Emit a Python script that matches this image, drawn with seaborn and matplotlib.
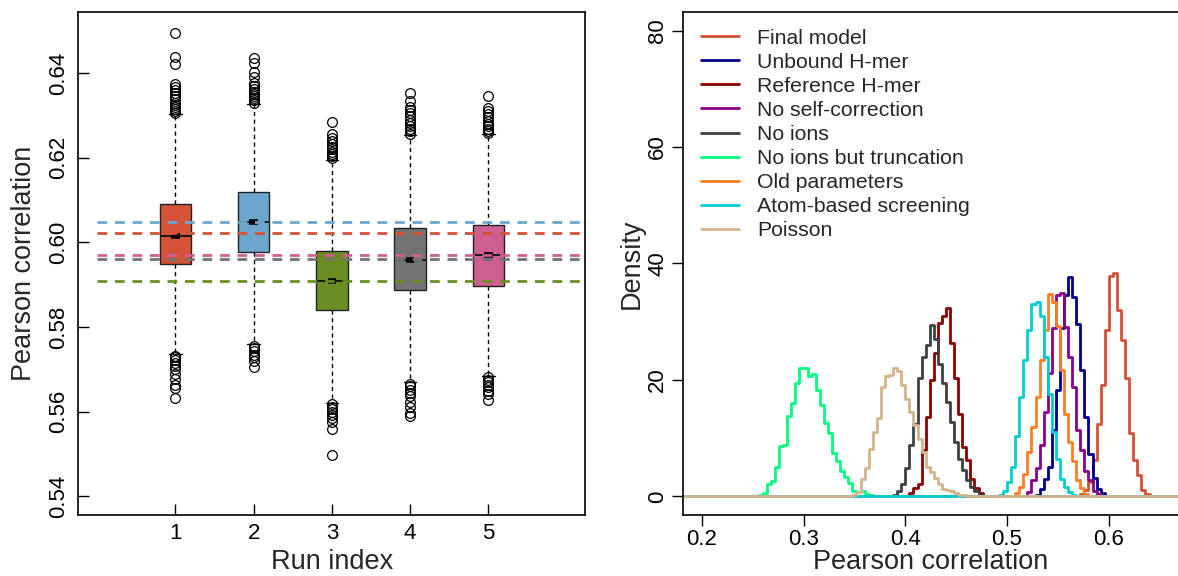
import numpy as np
import matplotlib
matplotlib.use("Agg")
import matplotlib.pyplot as plt
import seaborn as sns

# ---- left panel: box statistics per run ----
runs = [1, 2, 3, 4, 5]
run_colors = ["#D35238", "#6CA6CD", "#6B8E23", "#737373", "#CD6090"]
q1 = [0.5948, 0.5976, 0.5839, 0.5887, 0.5898]
med = [0.6015, 0.6047, 0.5908, 0.5959, 0.5970]
q3 = [0.6091, 0.6119, 0.5980, 0.6034, 0.6041]
whis_lo = [0.5736, 0.5761, 0.5621, 0.5670, 0.5685]
whis_hi = [0.6304, 0.6327, 0.6195, 0.6253, 0.6255]
fliers_1 = [0.6306, 0.6310, 0.6315, 0.6320, 0.6325, 0.6330, 0.6338, 0.6345, 0.6352,
            0.6360, 0.6368, 0.6375, 0.6422, 0.6437, 0.6494,
            0.5732, 0.5728, 0.5722, 0.5715, 0.5708, 0.5700, 0.5690, 0.5678, 0.5663,
            0.5655, 0.5632]
fliers_2 = [0.6330, 0.6335, 0.6340, 0.6345, 0.6350, 0.6356, 0.6363, 0.6370, 0.6377,
            0.6390, 0.6402, 0.6424, 0.6436,
            0.5756, 0.5750, 0.5743, 0.5735, 0.5728, 0.5720, 0.5706]
fliers_3 = [0.6198, 0.6203, 0.6208, 0.6214, 0.6220, 0.6226, 0.6232, 0.6240, 0.6246,
            0.6256, 0.6283,
            0.5617, 0.5612, 0.5606, 0.5600, 0.5593, 0.5585, 0.5576, 0.5560, 0.5498]
fliers_4 = [0.6256, 0.6262, 0.6268, 0.6275, 0.6282, 0.6290, 0.6298, 0.6305, 0.6313,
            0.6320, 0.6333, 0.6352,
            0.5666, 0.5660, 0.5652, 0.5645, 0.5636, 0.5624, 0.5611, 0.5598, 0.5590]
fliers_5 = [0.6258, 0.6263, 0.6268, 0.6274, 0.6280, 0.6287, 0.6295, 0.6303, 0.6311,
            0.6318, 0.6346,
            0.5681, 0.5676, 0.5670, 0.5664, 0.5658, 0.5650, 0.5641, 0.5628]
fliers = [fliers_1, fliers_2, fliers_3, fliers_4, fliers_5]
ref_values = [0.6047, 0.6021, 0.5970, 0.5960, 0.5908]
ref_colors = ["#6CA6CD", "#D35238", "#CD6090", "#737373", "#6B8E23"]

# ---- right panel: density histograms, bin width 0.004 ----
hist_labels = ["Final model", "Unbound H-mer", "Reference H-mer", "No self-correction",
               "No ions", "No ions but truncation", "Old parameters",
               "Atom-based screening", "Poisson"]
hist_colors = ["#D35238", "#00008B", "#8B0000", "#8B008B", "#404040",
               "#00FF7F", "#FF7F24", "#00CED1", "#D2B48C"]
hist_starts = [0.572, 0.528, 0.404, 0.520, 0.388, 0.256, 0.508, 0.492, 0.348]
h_final = [0.46, 1.15, 2.5, 6.2, 12.5, 19.1, 28.5, 37.9, 38.4, 32.0, 26.8, 20.4,
           10.9, 6.2, 3.6, 1.15, 0.46]
h_unbound = [0.3, 1.2, 2.9, 5.0, 11.4, 18.2, 28.9, 34.6, 37.6, 34.3, 29.6, 21.7,
             13.6, 7.2, 3.1, 1.2, 0.5]
h_reference = [0.5, 1.4, 2.2, 7.9, 13.6, 20.0, 24.6, 29.7, 30.9, 32.4, 26.3, 20.3,
               14.2, 8.5, 6.2, 3.0, 1.4, 0.5]
h_noself = [0.75, 2.75, 4.8, 8.8, 14.5, 21.2, 29.0, 34.6, 34.9, 29.1, 24.0, 18.8,
            11.4, 7.9, 4.4, 2.75, 1.0, 0.45]
h_noions = [0.3, 0.9, 2.2, 4.8, 8.8, 12.5, 20.3, 24.0, 26.0, 29.5, 27.1, 22.8,
            19.4, 16.2, 12.8, 9.3, 6.5, 4.5, 2.75, 1.6, 0.9, 0.3]
h_trunc = [0.3, 0.5, 2.1, 2.6, 5.0, 8.6, 8.8, 13.8, 16.0, 19.4, 22.0, 22.0, 20.7,
           21.0, 18.2, 15.7, 12.6, 10.8, 7.5, 6.1, 4.4, 3.4, 2.3, 1.0, 0.8, 1.0,
           0.4, 0.3]
h_old = [0.5, 1.6, 3.9, 7.6, 11.9, 17.1, 23.5, 28.6, 34.8, 33.4, 29.3, 21.7, 14.2,
         9.3, 6.1, 2.75, 1.4, 0.45]
h_atom = [0.3, 0.9, 2.5, 5.0, 10.3, 17.1, 23.5, 28.6, 33.0, 33.4, 30.9, 24.0, 17.5,
          11.1, 6.5, 3.0, 1.6, 0.8, 0.3]
h_poisson = [0.3, 0.75, 3.0, 4.8, 8.2, 11.1, 13.4, 18.8, 20.6, 20.8, 22.0, 21.5,
             19.2, 16.8, 14.5, 12.2, 9.9, 7.6, 5.0, 4.2, 3.1, 2.2, 1.3, 1.1, 0.9,
             0.6, 0.3, 0.3]
hist_heights = [h_final, h_unbound, h_reference, h_noself, h_noions, h_trunc,
                h_old, h_atom, h_poisson]

sns.set_style("ticks")
plt.rcParams["font.family"] = ["Liberation Sans", "DejaVu Sans"]

fig = plt.figure(figsize=(11.78, 5.76), dpi=100)
ax1 = fig.add_axes([0.0666, 0.1059, 0.4303, 0.8733])
ax2 = fig.add_axes([0.5802, 0.1059, 0.4198, 0.8733])

# left: boxplot from summary stats
stats = []
for i in range(len(runs)):
    stats.append(dict(med=med[i], q1=q1[i], q3=q3[i], whislo=whis_lo[i],
                      whishi=whis_hi[i], fliers=fliers[i]))
bp = ax1.bxp(stats, positions=runs, widths=0.4, capwidths=0.16,
             patch_artist=True,
             boxprops=dict(edgecolor="#222222", linewidth=1.0),
             medianprops=dict(color="#111111", linewidth=1.3),
             whiskerprops=dict(color="black", linewidth=1, linestyle=(0, (3, 2.5))),
             capprops=dict(color="black", linewidth=1),
             flierprops=dict(marker="o", markerfacecolor="none",
                             markeredgecolor="black", markersize=7,
                             markeredgewidth=0.9))
for patch, c in zip(bp["boxes"], run_colors):
    patch.set_facecolor(c)
# thick notch mark at each median
ax1.hlines(med, np.array(runs) - 0.055, np.array(runs) + 0.055, colors="black",
           linewidth=4, zorder=4)

for v, c in zip(ref_values, ref_colors):
    ax1.hlines(v, 0, 6.24, colors=c, linewidth=2, linestyles=(0, (3.5, 2.8)), zorder=5)

ax1.set_xlim(-0.24, 6.24)
ax1.set_ylim(0.5356, 0.6544)
ax1.set_xticks(runs)
ax1.set_xticklabels([str(r) for r in runs])
ax1.set_yticks([0.54, 0.56, 0.58, 0.60, 0.62, 0.64])
ax1.set_yticklabels(["0.54", "0.56", "0.58", "0.60", "0.62", "0.64"])
ax1.set_xlabel("Run index", fontsize=19.5)
ax1.set_ylabel("Pearson correlation", fontsize=19.5)
ax1.tick_params(direction="in", length=8, width=1, labelsize=16, colors="black")
ax1.tick_params(axis="x", pad=6)
ax1.tick_params(axis="y", pad=7)

# right: step histograms
bin_width = 0.004
edges = list(np.arange(0.18, 0.6681, bin_width))
for label, color, start, h in zip(hist_labels, hist_colors, hist_starts, hist_heights):
    centers = start + bin_width * (np.arange(len(h)) + 0.5)
    sns.histplot(x=centers, weights=h, bins=edges, element="step", fill=False,
                 color=color, linewidth=2, label=label, ax=ax2)

ax2.set_xlim(0.182, 0.668)
ax2.set_ylim(-3.2, 83.2)
ax2.set_xticks([0.2, 0.3, 0.4, 0.5, 0.6])
ax2.set_xticklabels(["0.2", "0.3", "0.4", "0.5", "0.6"])
ax2.set_yticks([0, 20, 40, 60, 80])
ax2.set_xlabel("Pearson correlation", fontsize=19.5)
ax2.set_ylabel("Density", fontsize=19.5)
ax2.spines["right"].set_visible(False)
ax2.tick_params(direction="out", length=8, width=1, labelsize=16, pad=3,
                colors="black")
ax2.tick_params(axis="x", pad=2)
leg = ax2.legend(loc="upper left", bbox_to_anchor=(0.035, 0.967), frameon=False,
                 fontsize=15.3, handlelength=1.8, handletextpad=0.85,
                 labelspacing=0.24, borderpad=0, borderaxespad=0)
for line in leg.get_lines():
    line.set_linewidth(2)

ax1.xaxis.set_label_coords(0.5, -0.068)
ax2.xaxis.set_label_coords(0.5, -0.068)
ax1.yaxis.set_label_coords(-0.082, 0.5)
ax2.yaxis.set_label_coords(-0.078, 0.5)

for ax in (ax1, ax2):
    ax.tick_params(axis="y", labelrotation=90)
    for lab in ax.get_yticklabels():
        lab.set_va("center")
    for s in ax.spines.values():
        s.set_linewidth(1.2)
        s.set_color("black")

fig.savefig("out.png", dpi=100)
